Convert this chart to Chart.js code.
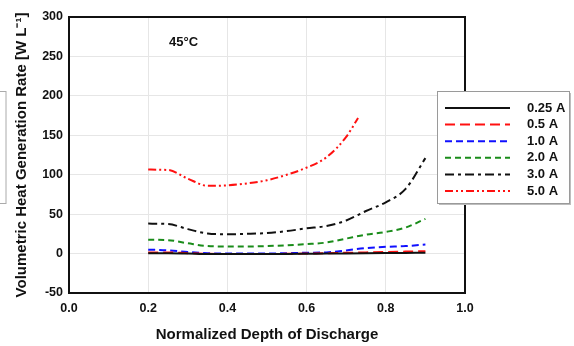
<!DOCTYPE html>
<html>
<head>
<meta charset="utf-8">
<script src="https://cdn.jsdelivr.net/npm/chart.js@4.4.1/dist/chart.umd.min.js"></script>
<style>
  html, body { margin: 0; padding: 0; background: #fff; }
  #wrap { width: 574px; height: 346px; }
</style>
</head>
<body>
<div id="wrap"><canvas id="grafica" width="574" height="346"></canvas></div>
<script type="text/javascript">

    // depth of discharge points (x) shared by the low/mid current curves
    var dod = [0.20, 0.25, 0.30, 0.35, 0.40, 0.45, 0.50, 0.55, 0.60, 0.65, 0.70, 0.75, 0.80, 0.85, 0.90]
    var q025 = [0.5, 0.5, 0.2, -0.5, -0.5, -0.5, -0.5, -0.5, -0.3, 0, 0.2, 0.4, 0.6, 0.8, 1.0]
    var q05  = [1.5, 1.5, 0.5, -0.3, -0.5, -0.5, -0.5, -0.3, 0, 0.4, 1.0, 1.5, 2.0, 2.5, 3.0]
    var q10  = [5.0, 4.0, 2.0, 0.5, 0, 0, 0, 0.5, 1.0, 1.5, 4.0, 7.0, 8.5, 9.5, 11.5]
    var q20  = [17.5, 17.0, 13.0, 9.5, 9.0, 9.0, 9.5, 10.5, 12.0, 14.0, 19.0, 24.0, 27.5, 33.0, 44.0]
    var q30  = [38.0, 37.5, 31.0, 25.5, 24.5, 25.0, 26.0, 28.5, 32.0, 35.0, 42.0, 54.0, 65.0, 82.0, 121.0]

    // 5.0 A curve stops earlier
    var dod5 = [0.20, 0.25, 0.30, 0.35, 0.40, 0.45, 0.50, 0.55, 0.60, 0.65, 0.70, 0.73]
    var q50  = [106.5, 106.0, 95.0, 86.0, 86.5, 89.0, 93.0, 100.0, 109.0, 122.0, 148.0, 172.0]

    var etiquetas = ["0.25 A", "0.5 A", "1.0 A", "2.0 A", "3.0 A", "5.0 A"]
    var xTicks = [0.0, 0.2, 0.4, 0.6, 0.8, 1.0]
    var yTicks = [-50, 0, 50, 100, 150, 200, 250, 300]

    function puntos(xs, ys) {
        return xs.map(function (x, i) { return { x: x, y: ys[i] } })
    }

    var estilos = [
        { color: "#111111", dash: [] },
        { color: "#ff1010", dash: [10, 5] },
        { color: "#1010ff", dash: [7, 4] },
        { color: "#1a8c1a", dash: [6, 4] },
        { color: "#111111", dash: [9, 4, 3, 4] },
        { color: "#ff1010", dash: [8, 3, 2, 3, 2, 3] }
    ]
    var series = [
        puntos(dod, q025), puntos(dod, q05), puntos(dod, q10),
        puntos(dod, q20), puntos(dod, q30), puntos(dod5, q50)
    ]

    var datos = {
        datasets: series.map(function (s, i) {
            return {
                label: etiquetas[i],
                data: s,
                borderColor: estilos[i].color,
                borderDash: estilos[i].dash,
                borderWidth: 2,
                pointRadius: 0,
                fill: false,
                cubicInterpolationMode: "monotone"
            }
        })
    }

    var fuenteEje = "'Liberation Sans', Arial, sans-serif"

    // frame, annotation and boxed legend
    var extras = {
        id: "extras",
        afterDraw: function (chart) {
            var ctx = chart.ctx
            var a = chart.chartArea
            ctx.save()

            ctx.strokeStyle = "#111"
            ctx.lineWidth = 2
            ctx.setLineDash([])
            ctx.strokeRect(a.left, a.top, a.right - a.left, a.bottom - a.top)

            ctx.fillStyle = "#111"
            ctx.font = "bold 13px " + fuenteEje
            ctx.textBaseline = "middle"
            ctx.textAlign = "left"
            ctx.fillText("45°C", 169, 42)

            // stray legend edge at the left side
            ctx.strokeStyle = "#aaaaaa"
            ctx.lineWidth = 1
            ctx.strokeRect(-10, 91.5, 16, 112)

            // legend box with shadow
            var lx = 437, ly = 91, lw = 132, lh = 112
            ctx.fillStyle = "#bdbdbd"
            ctx.fillRect(lx + 2, ly + 2, lw, lh)
            ctx.fillStyle = "#ffffff"
            ctx.fillRect(lx, ly, lw, lh)
            ctx.strokeStyle = "#9a9a9a"
            ctx.strokeRect(lx + 0.5, ly + 0.5, lw, lh)

            chart.data.datasets.forEach(function (ds, i) {
                var y = 108 + i * 16.6
                ctx.strokeStyle = ds.borderColor
                ctx.lineWidth = 2
                ctx.setLineDash(ds.borderDash)
                ctx.beginPath()
                ctx.moveTo(445, y)
                ctx.lineTo(510, y)
                ctx.stroke()
                ctx.setLineDash([])
                ctx.fillStyle = "#111"
                ctx.font = "bold 13px " + fuenteEje
                ctx.fillText(ds.label, 527, y)
            })
            ctx.restore()
        }
    }

    var canvas = document.getElementById('grafica')
    var context = canvas.getContext('2d')

    window.grafica = new Chart(context, {
        type: "line",
        data: datos,
        options: {
            responsive: false,
            animation: false,
            layout: { padding: { top: 17, right: 109, left: 0, bottom: 0 } },
            plugins: {
                legend: { display: false },
                tooltip: { enabled: false }
            },
            scales: {
                x: {
                    type: "linear",
                    min: 0, max: 1,
                    afterFit: function (s) { s.height = 53 },
                    afterBuildTicks: function (s) { s.ticks = xTicks.map(function (v) { return { value: v } }) },
                    grid: { color: "#e6e6e6", drawTicks: false },
                    border: { display: false },
                    ticks: {
                        padding: 8,
                        color: "#111",
                        font: { family: fuenteEje, size: 12.5, weight: "bold" },
                        callback: function (v) { return v.toFixed(1) }
                    },
                    title: {
                        display: true,
                        text: "Normalized Depth of Discharge",
                        color: "#111",
                        padding: { top: 0, bottom: 2 },
                        font: { family: fuenteEje, size: 15, weight: "bold" }
                    }
                },
                y: {
                    min: -50, max: 300,
                    afterFit: function (s) { s.width = 69 },
                    afterBuildTicks: function (s) { s.ticks = yTicks.map(function (v) { return { value: v } }) },
                    grid: { color: "#e6e6e6", drawTicks: false },
                    border: { display: false },
                    ticks: {
                        padding: 6,
                        color: "#111",
                        font: { family: fuenteEje, size: 12.5, weight: "bold" }
                    },
                    title: {
                        display: true,
                        text: "Volumetric Heat Generation Rate [W L⁻¹]",
                        color: "#111",
                        padding: { top: 13, bottom: 0 },
                        font: { family: fuenteEje, size: 15, weight: "bold" }
                    }
                }
            }
        },
        plugins: [extras]
    });

</script>
</body>
</html>
